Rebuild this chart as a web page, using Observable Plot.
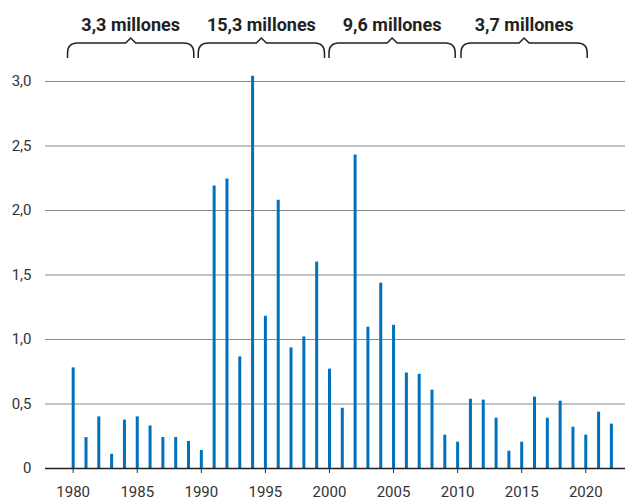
<!DOCTYPE html>
<html>
<head>
<meta charset="utf-8">
<script src="https://cdn.jsdelivr.net/npm/d3@7"></script>
<script src="https://cdn.jsdelivr.net/npm/@observablehq/plot@0.6"></script>
<style>
  html, body { margin: 0; padding: 0; background: #fff; }
  #chart { width: 625px; height: 503px; }
</style>
</head>
<body>
<div id="chart"></div>
<script>
// Years (categories)
const years = [1980, 1981, 1982, 1983, 1984, 1985, 1986, 1987, 1988, 1989,
               1990, 1991, 1992, 1993, 1994, 1995, 1996, 1997, 1998, 1999,
               2000, 2001, 2002, 2003, 2004, 2005, 2006, 2007, 2008, 2009,
               2010, 2011, 2012, 2013, 2014, 2015, 2016, 2017, 2018, 2019,
               2020, 2021, 2022];
// Values (millions)
const values = [0.78, 0.24, 0.40, 0.11, 0.375, 0.40, 0.33, 0.24, 0.24, 0.21,
                0.14, 2.19, 2.245, 0.865, 3.04, 1.18, 2.08, 0.935, 1.02, 1.60,
                0.77, 0.467, 2.43, 1.095, 1.437, 1.11, 0.74, 0.73, 0.607, 0.258,
                0.204, 0.537, 0.53, 0.39, 0.134, 0.204, 0.553, 0.39, 0.522, 0.32,
                0.258, 0.437, 0.344];
// Tick labels
const xTicks = [1980, 1985, 1990, 1995, 2000, 2005, 2010, 2015, 2020];
const yTicks = [0, 0.5, 1.0, 1.5, 2.0, 2.5, 3.0];
// Decade brace annotations
const braceStart = [1979.6, 1989.8, 2000.0, 2010.3];
const braceEnd   = [1989.45, 1999.65, 2009.85, 2020.15];
const braceLabels = ["3,3 millones", "15,3 millones", "9,6 millones", "3,7 millones"];

const data = years.map((year, i) => ({year, value: values[i]}));

const fmtY = d => d === 0 ? "0" : d.toFixed(1).replace(".", ",");

function braces(index, scales) {
  const x = scales.x;
  const g = d3.create("svg:g");
  braceStart.forEach((s, i) => {
    const x0 = x(s), x1 = x(braceEnd[i]), xm = (x0 + x1) / 2;
    const yH = 43, yE = 58, r = 10, yP = 38;
    const d = `M${x0},${yE} L${x0},${yH + r} Q${x0},${yH} ${x0 + r},${yH} ` +
              `L${xm - 5},${yH} L${xm},${yP} L${xm + 5},${yH} ` +
              `L${x1 - r},${yH} Q${x1},${yH} ${x1},${yH + r} L${x1},${yE}`;
    g.append("path").attr("d", d).attr("fill", "none")
      .attr("stroke", "#222").attr("stroke-width", 1.5);
    g.append("text").attr("x", xm).attr("y", 31)
      .attr("text-anchor", "middle")
      .attr("font-family", "Roboto, sans-serif")
      .attr("font-weight", 700).attr("font-size", 18)
      .attr("fill", "#222")
      .text(braceLabels[i]);
  });
  return g.node();
}

const chart = Plot.plot({
  width: 625,
  height: 503,
  marginLeft: 45,
  marginRight: 0,
  marginTop: 81,
  marginBottom: 35,
  style: {fontFamily: "Roboto, sans-serif", fontSize: "15px", color: "#333", background: "#fff"},
  x: {domain: [1977.84, 2023.1], ticks: xTicks, tickFormat: d => String(d), tickSize: 5, tickPadding: 13, label: null},
  y: {domain: [0, 3], ticks: yTicks, tickFormat: fmtY, tickSize: 0, tickPadding: 14, label: null},
  marks: [
    Plot.ruleY(yTicks.filter(d => d > 0), {stroke: "#888", strokeWidth: 1}),
    Plot.ruleX(data, {x: "year", y1: 0, y2: "value", stroke: "#0071bc", strokeWidth: 3}),
    Plot.ruleY([0], {stroke: "#222", strokeWidth: 1.5}),
    braces
  ]
});
document.getElementById("chart").appendChild(chart);
</script>
</body>
</html>
